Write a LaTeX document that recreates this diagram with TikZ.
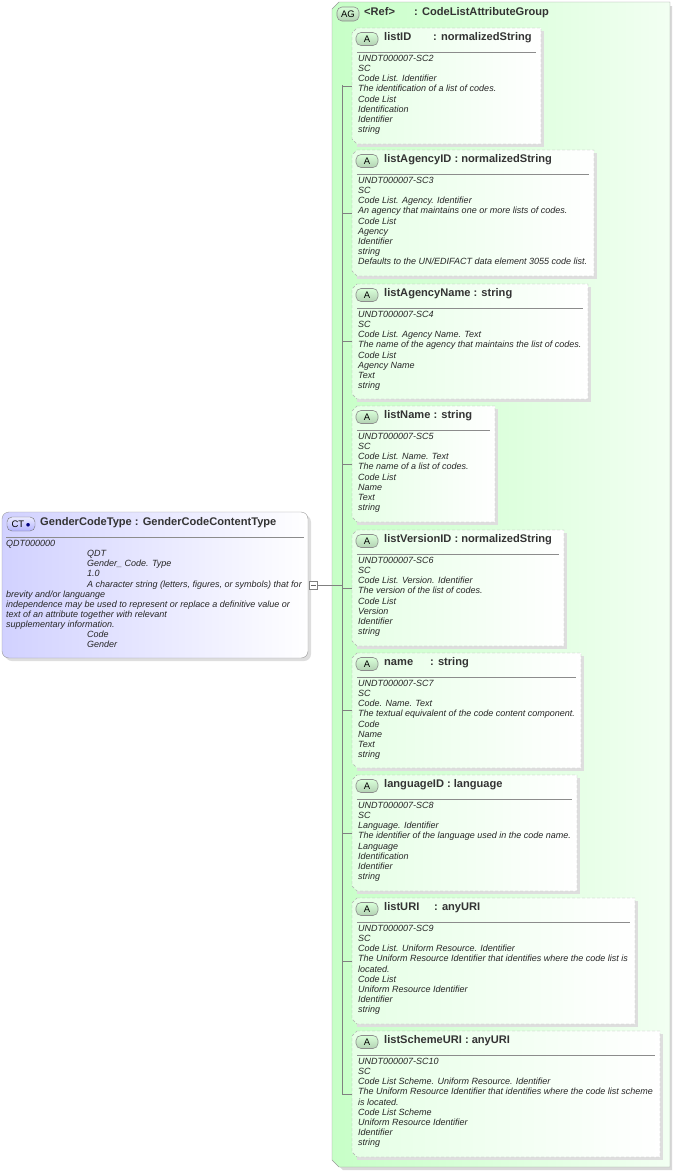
\documentclass[tikz,border=0pt]{standalone}
\usepackage{fontspec}
\setmainfont{Liberation Sans}
\setsansfont{Liberation Sans}
\begin{document}
\begin{tikzpicture}[x=1pt,y=-1pt,
  body/.style={anchor=north west,align=left,inner sep=0pt,font=\fontsize{9}{10.15}\selectfont\itshape,text=black!85},
  ttl/.style={anchor=west,inner sep=0pt,font=\fontsize{11.1}{12}\selectfont\bfseries,text=black!80},
  abox/.style={draw=black!30,dashed,dash pattern=on 3pt off 2pt,left color=green!10,right color=white},
  conn/.style={draw=black!50,line width=0.5pt},
  badge/.style={draw=black!45,rounded corners=5pt,top color=green!15,bottom color=green!40!black!30,line width=0.6pt}]
\useasboundingbox (0,0) rectangle (675,1173);
% AG group
\fill[black!15] (336,6) -- (672,6) -- (672,1170) -- (343,1170) -- (336,1163) -- cycle;
\draw[draw=black!40,left color=green!22,right color=green!5] (339,2) -- (670,2) -- (670,1167) -- (339,1167) -- (332,1160) -- (332,9) -- cycle;
\node[badge,minimum width=22pt,minimum height=14pt,inner sep=0pt,font=\fontsize{9.5}{10}\selectfont,rounded corners=5pt] (agb) at (348,14) {AG};
\node[ttl] (agt) at (364,13) {\makebox[50pt][l]{<Ref>}: CodeListAttributeGroup};
\newcommand\attrbox[6]{% id, right, top, bottom, title, body
 \fill[black!13] (357,#3+3) -- (#2+3,#3+3) -- (#2+3,#4+3) -- (357,#4+3) -- cycle;
 \path[abox] (357,#3) -- (#2,#3) -- (#2,#4) -- (357,#4) -- (352,#4-5) -- (352,#3+5) -- cycle;
 \node[badge,minimum width=22pt,minimum height=13pt,inner sep=0pt,font=\fontsize{9.5}{10}\selectfont] (#1-b) at (367,#3+11) {A};
 \node[ttl] (#1-t) at (384,#3+10) {#5};
 \draw[black!45] (357,#3+24) -- (#2-5,#3+24);
 \node[body] (#1-x) at (358,#3+27) {#6};
 \coordinate (#1-s) at (352,{(#3+#4)/2});
}
\attrbox{a1}{541}{28}{144}{\makebox[49pt][l]{listID}: normalizedString}{UNDT000007-SC2\\SC\\Code List. Identifier\\The identification of a list of codes.\\Code List\\Identification\\Identifier\\string}
\attrbox{a2}{594}{150}{276}{listAgencyID : normalizedString}{UNDT000007-SC3\\SC\\Code List. Agency. Identifier\\An agency that maintains one or more lists of codes.\\Code List\\Agency\\Identifier\\string\\Defaults to the UN/EDIFACT data element 3055 code list.}
\attrbox{a3}{588}{284}{399}{listAgencyName : string}{UNDT000007-SC4\\SC\\Code List. Agency Name. Text\\The name of the agency that maintains the list of codes.\\Code List\\Agency Name\\Text\\string}
\attrbox{a4}{495}{406}{522}{listName : string}{UNDT000007-SC5\\SC\\Code List. Name. Text\\The name of a list of codes.\\Code List\\Name\\Text\\string}
\attrbox{a5}{564}{530}{646}{listVersionID : normalizedString}{UNDT000007-SC6\\SC\\Code List. Version. Identifier\\The version of the list of codes.\\Code List\\Version\\Identifier\\string}
\attrbox{a6}{581}{653}{768}{\makebox[46pt][l]{name}: string}{UNDT000007-SC7\\SC\\Code. Name. Text\\The textual equivalent of the code content component.\\Code\\Name\\Text\\string}
\attrbox{a7}{577}{775}{891}{languageID : language}{UNDT000007-SC8\\SC\\Language. Identifier\\The identifier of the language used in the code name.\\Language\\Identification\\Identifier\\string}
\attrbox{a8}{635}{898}{1024}{\makebox[50pt][l]{listURI}: anyURI}{UNDT000007-SC9\\SC\\Code List. Uniform Resource. Identifier\\The Uniform Resource Identifier that identifies where the code list is\\located.\\Code List\\Uniform Resource Identifier\\Identifier\\string}
\attrbox{a9}{660}{1031}{1157}{listSchemeURI : anyURI}{UNDT000007-SC10\\SC\\Code List Scheme. Uniform Resource. Identifier\\The Uniform Resource Identifier that identifies where the code list scheme\\is located.\\Code List Scheme\\Uniform Resource Identifier\\Identifier\\string}
% connectors
\coordinate (vt) at (342,85);
\coordinate (vb) at (342,1094);
\draw[conn] (vt) -- (vb);
\foreach \i in {a1,a2,a3,a4,a5,a6,a7,a8,a9} {\draw[conn] (\i-s -| vt) -- (\i-s);}
% left CT box
\fill[black!13,rounded corners=7pt] (5,515) rectangle (311,661);
\draw[black!40,rounded corners=7pt,left color=blue!18,right color=white] (2,512) rectangle (308,658);
\node[draw=black!55,rounded corners=5pt,top color=blue!8,bottom color=blue!30,minimum width=28pt,minimum height=14pt,inner sep=0pt,font=\fontsize{9.5}{10}\selectfont] (ctb) at (21,524) {CT\,\raisebox{-0.3pt}{\textcolor{blue!50!black}{$\bullet$}}};
\node[ttl] (ctt) at (40,523) {GenderCodeType : GenderCodeContentType};
\draw[black!45] (6,537) -- (304,537);
\node[body] (ctx) at (6,540) {QDT000000\\
\hspace*{81pt}QDT\\
\hspace*{81pt}Gender\_ Code. Type\\
\hspace*{81pt}1.0\\
\hspace*{81pt}A character string (letters, figures, or symbols) that for\\
brevity and/or languange\\
independence may be used to represent or replace a definitive value or\\
text of an attribute together with relevant\\
supplementary information.\\
\hspace*{81pt}Code\\
\hspace*{81pt}Gender};
\node[draw=black!50,fill=white,minimum size=8pt,inner sep=0pt] (mn) at (313,585) {};
\draw[black!60] (310.5,585) -- (315.5,585);
\coordinate (vm) at (342,585);
\draw[conn] (mn) -- (vm);
\end{tikzpicture}
\end{document}
